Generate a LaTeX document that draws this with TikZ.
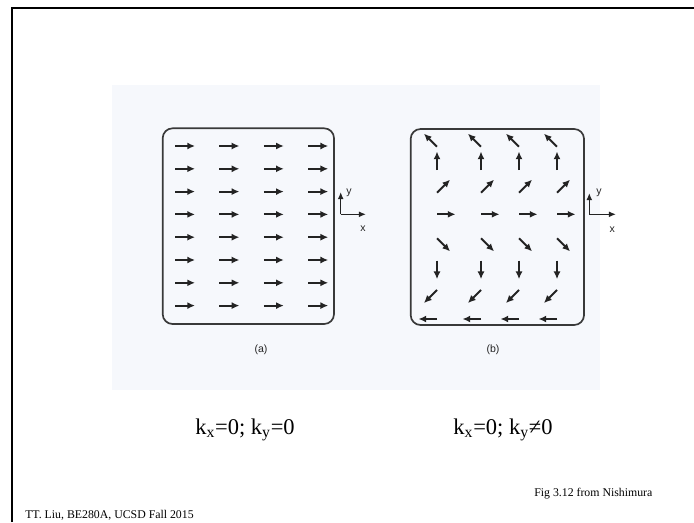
\documentclass[tikz,border=0pt]{standalone}
\usepackage{fontspec}
\setmainfont{Liberation Serif}
\setsansfont{Liberation Sans}
\usetikzlibrary{arrows.meta}

\definecolor{scanbg}{RGB}{246,248,252}
\definecolor{inkgray}{RGB}{35,35,35}

\tikzset{
  spin/.style={line width=1.4pt, inkgray, -{Latex[length=5.5pt,width=5pt]}},
  axis/.style={line width=1pt, inkgray, -{Latex[length=5pt,width=4.2pt]}},
  panel/.style={draw=inkgray!90, line width=1.2pt, rounded corners=7pt},
  axlabel/.style={font=\sffamily\fontsize{7.5}{8}\selectfont, inkgray, inner sep=0pt},
  caption/.style={font=\sffamily\fontsize{7.5}{8}\selectfont, inkgray, inner sep=0pt},
  klabel/.style={font=\fontsize{16}{18}\selectfont, inner sep=0pt},
  footer/.style={font=\fontsize{8.4}{9}\selectfont, inner sep=0pt, anchor=west}
}

\begin{document}
\begin{tikzpicture}[x=0.025cm, y=0.025cm]

\useasboundingbox (0,0) rectangle (694,522);

% slide frame
\draw[line width=2pt] (12,0) -- (12,514) -- (694,514);

% scanned figure
\fill[scanbg] (112,132) rectangle (600,437);
\draw[panel] (162.7,198) rectangle (334,393.7);
\draw[panel] (410.7,197) rectangle (584,393);

% (a) uniform phase
\foreach \i in {0,...,7}
  \foreach \j in {0,...,3}
    \draw[spin] (175+44.4*\j,376-22.8*\i) -- ++(20,0);

% (b) phase wound along y
\foreach \yy/\ang in {375.3/135, 352/90, 329.3/45, 307.7/0, 283.7/-45, 261.3/-90, 232/-135, 203/180}
  \foreach \xx in {437,481,519,557}
    \draw[spin] (\xx,\yy) -- ++(\ang:18.5);

% axes
\coordinate (oa) at (340.7,307.7);
\coordinate (ya) at (340.7,330);
\coordinate (xa) at (366,307.7);
\draw[axis] (oa) -- (ya);
\draw[axis] (oa) -- (xa);
\node[axlabel] (yla) at (349,329) {y};
\node[axlabel] (xla) at (363,293) {x};

\coordinate (ob) at (589.3,307.7);
\coordinate (yb) at (589.3,329);
\coordinate (xb) at (616,307.7);
\draw[axis] (ob) -- (yb);
\draw[axis] (ob) -- (xb);
\node[axlabel] (ylb) at (599,329) {y};
\node[axlabel] (xlb) at (612.3,292) {x};

\node[caption] (capa) at (261,172) {(a)};
\node[caption] (capb) at (493,172) {(b)};

% wave numbers
\node[klabel] (ka) at (245,92) {k\textsubscript{x}=0; k\textsubscript{y}=0};
\node[klabel] (kb) at (503,92) {k\textsubscript{x}=0; k\textsubscript{y}≠0};

\node[footer] (src) at (534,28) {Fig 3.12 from Nishimura};
\node[footer] (who) at (25,7) {TT. Liu, BE280A, UCSD Fall 2015};

\end{tikzpicture}
\end{document}
